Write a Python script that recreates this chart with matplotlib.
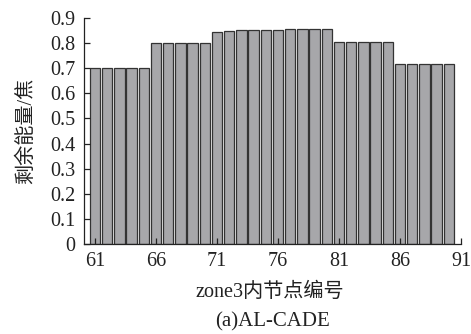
import matplotlib
matplotlib.use("Agg")
import matplotlib.pyplot as plt

nodes = list(range(61, 91))
energy = [0.70, 0.70, 0.70, 0.70, 0.70,
          0.80, 0.80, 0.80, 0.80, 0.80,
          0.846, 0.849, 0.851, 0.853, 0.853,
          0.853, 0.855, 0.855, 0.855, 0.855,
          0.803, 0.803, 0.803, 0.803, 0.803,
          0.715, 0.716, 0.716, 0.716, 0.715]
xticks = [61, 66, 71, 76, 81, 86, 91]
yticks = [0, 0.1, 0.2, 0.3, 0.4, 0.5, 0.6, 0.7, 0.8, 0.9]

plt.rcParams['font.family'] = ['Liberation Serif', 'Noto Sans CJK SC']
fs = 14.5

W, H = 471, 334
fig = plt.figure(figsize=(W / 100, H / 100), dpi=100)
ax = fig.add_axes([84 / W, (H - 244) / H, (461 - 84) / W, (244 - 18) / H])
ax.bar(nodes, energy, width=0.85, color='#a7a7aa', edgecolor='#333333', linewidth=0.9)
ax.set_xlim(60.1, 91)
ax.set_ylim(0, 0.9)
ax.set_xticks(xticks)
ax.set_yticks(yticks)
ax.set_yticklabels(['0'] + [f'{v:.1f}' for v in yticks[1:]])
ax.spines['top'].set_visible(False)
ax.spines['right'].set_visible(False)
for s in ax.spines.values():
    s.set_linewidth(0.9)
    s.set_color('#222222')
ax.tick_params(direction='in', length=4, width=0.9, labelsize=fs, colors='#222222')
ax.tick_params(axis='y', pad=6)
ax.tick_params(axis='x', pad=6)
fig.text(270 / W, (H - 292) / H, 'zone3内节点编号', ha='center', va='center', fontsize=fs, color='#222222')
fig.text(26 / W, (H - 131) / H, '剩余能量/焦', ha='center', va='center', rotation=90, fontsize=fs, color='#222222')
fig.text(272 / W, (H - 322) / H, '(a)AL-CADE', ha='center', va='center', fontsize=fs + 0.5, color='#222222')
fig.savefig('out.png', dpi=100)
